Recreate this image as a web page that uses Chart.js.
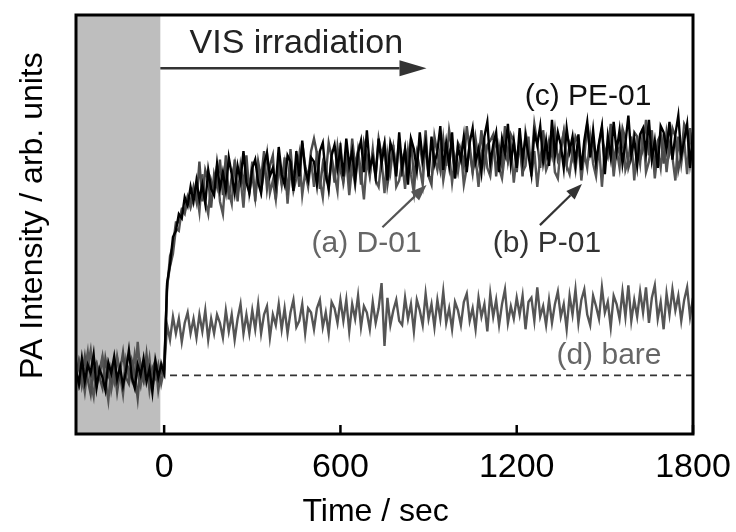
<!DOCTYPE html>
<html>
<head>
<meta charset="utf-8">
<script src="https://cdn.jsdelivr.net/npm/chart.js@4.4.1/dist/chart.umd.min.js"></script>
<style>
html,body{margin:0;padding:0;background:#fff;}
#wrap{width:736px;height:532px;position:relative;}
</style>
</head>
<body>
<div id="wrap"><canvas id="c" width="736" height="532"></canvas></div>
<script>
// ---- data (arbitrary units, sampled every 10 s starting at -300 s) ----
const timeStart = -300;
const timeStep = 10;
const xTickValues = [0, 600, 1200, 1800];
const xTickLabels = ['0', '600', '1200', '1800'];

const pe01 = [
 30,24,36,25,33,29,38,22,31,27, 21,34,29,37,26,32,23,30,40,27, 22,33,28,36,25,31,20,35,27,33, 29,
 72,81,94,97,105,103,113,109,118,111,
 121,112,119,110,126,117,114,129,117,125,
 116,132,124,115,128,121,135,120,115,127,
 131,120,115,129,134,123,127,119,137,124,
 119,133,130,116,135,123,140,126,121,132,
 130,119,135,139,124,117,133,138,127,136,
 123,141,128,135,121,134,140,125,145,127,
 132,123,141,129,138,121,139,134,123,144,
 127,136,119,141,136,126,144,131,139,123,
 142,129,135,147,126,139,128,144,122,137,
 131,142,125,139,146,130,136,125,142,149,
 129,138,144,125,141,134,148,129,140,127,
 146,131,142,133,124,144,138,147,130,140,
 128,150,133,144,138,127,146,135,142,129,
 143,126,140,149,132,145,130,139,147,124,
 142,132,149,135,145,129,139,152,133,141,
 128,143,146,134,150,131,140,127,147,144,
 136,149,131,143,152,133,140,148,127,144
];
const d01 = [
 31,23,28,37,26,19,32,34,27,22, 36,28,25,33,20,30,39,27,24,35, 29,17,33,26,38,24,31,35,21,30, 28,
 69,85,90,101,101,107,106,113,111,118,
 111,130,111,126,121,108,124,118,131,114,
 133,112,123,129,111,128,119,133,115,124,
 113,130,122,135,117,128,133,112,129,120,
 129,114,136,120,131,118,139,128,122,135,
 141,134,117,129,123,139,132,120,137,126,
 120,133,122,141,128,135,119,139,133,124,
 134,124,141,133,139,119,128,137,126,141,
 123,136,129,141,122,133,139,128,145,123,
 119,142,134,126,141,128,145,136,122,139,
 136,128,147,135,125,141,131,145,128,138,
 140,143,123,137,128,147,131,143,140,125,
 140,123,144,136,129,148,139,127,145,132,
 140,133,145,131,135,144,129,138,132,142,
 139,127,132,148,134,141,128,138,146,130,
 135,148,130,138,134,146,141,127,132,144,
 142,131,136,150,133,145,126,140,143,129,
 144,135,146,142,126,133,148,145,129,140
];
const p01 = [
 27,34,23,30,39,25,18,33,28,36, 26,16,31,25,37,29,22,35,27,32, 24,44,28,25,35,21,31,27,33,24, 31,
 71,80,86,98,97,107,105,113,108,113,
 116,106,124,111,105,121,116,128,111,105,
 125,116,110,131,115,122,108,128,117,130,
 111,127,116,125,134,115,121,112,129,119,
 132,110,127,116,122,133,114,125,118,131,
 118,135,121,113,130,117,132,124,116,139,
 121,131,114,128,119,135,125,112,131,123,
 136,121,118,131,115,134,125,138,118,121,
 130,117,135,124,115,134,127,119,140,123,
 122,132,126,136,121,130,134,120,132,125,
 135,119,127,138,125,132,118,134,139,127,
 123,135,140,127,122,134,130,138,120,133,
 139,125,128,142,123,135,118,132,137,126,
 130,141,125,122,137,144,128,124,135,126,
 139,121,134,127,142,129,123,138,118,136,
 132,141,123,136,127,144,126,131,142,121,
 138,129,146,125,130,140,122,135,127,143,
 125,138,132,121,142,129,140,124,146,131
];
const bare = [
 26,35,29,20,32,40,27,23,30,37, 25,33,21,29,36,28,19,34,31,26, 38,29,23,32,27,36,22,31,26,34, 30,
 52,45,56,48,55,44,53,58,48,55,
 46,57,49,59,45,55,48,57,53,46,
 59,49,57,45,55,62,48,57,48,59,
 50,62,48,57,61,46,57,52,62,50,
 60,48,58,64,51,54,62,48,60,58,
 50,60,64,51,58,48,63,60,53,64,
 54,64,49,62,55,66,51,61,58,50,
 63,53,60,72,42,65,52,59,64,54,
 52,65,55,62,49,64,59,52,67,55,
 62,51,64,55,68,53,60,50,63,59,
 52,63,67,54,60,50,65,56,62,49,
 67,56,64,52,62,69,53,61,55,65,
 57,66,50,63,65,54,70,56,61,52,
 64,53,62,68,56,62,50,66,57,69,
 53,64,69,57,52,66,61,55,70,58,
 63,51,66,62,55,68,56,71,54,64,
 56,68,58,70,53,65,71,55,63,50,
 67,57,69,59,66,54,64,70,56,65
];
const bareReferenceX = [20, 1800];
const bareReferenceY = [28, 28];
const darkPeriod = [-300, -13];

function toPoints(vals) {
  return vals.map((v, i) => ({x: timeStart + i * timeStep, y: v}));
}

const FONT = '"Liberation Sans", Arial, Helvetica, sans-serif';

const decorPlugin = {
  id: 'decor',
  beforeDatasetsDraw(chart) {
    const {ctx, chartArea: a, scales: {x}} = chart;
    ctx.save();
    ctx.fillStyle = '#bebebe';
    const x0 = x.getPixelForValue(darkPeriod[0]);
    const x1 = x.getPixelForValue(darkPeriod[1]);
    ctx.fillRect(x0, a.top, x1 - x0, a.bottom - a.top);
    ctx.restore();
  },
  afterDatasetsDraw(chart) {
    const {ctx, chartArea: a, scales: {x, y}} = chart;
    ctx.save();
    ctx.strokeStyle = '#000';
    ctx.lineWidth = 3;
    ctx.strokeRect(a.left, a.top, a.right - a.left, a.bottom - a.top);
    ctx.lineWidth = 2.5;
    xTickValues.forEach(v => {
      const px = x.getPixelForValue(v);
      ctx.beginPath();
      ctx.moveTo(px, a.bottom);
      ctx.lineTo(px, a.bottom - 9);
      ctx.stroke();
    });
    function arrow(xa, ya, xb, yb, color, lw, hl, hw) {
      const p0x = x.getPixelForValue(xa), p0y = y.getPixelForValue(ya);
      const p1x = x.getPixelForValue(xb), p1y = y.getPixelForValue(yb);
      const ang = Math.atan2(p1y - p0y, p1x - p0x);
      const bx = p1x - hl * Math.cos(ang), by = p1y - hl * Math.sin(ang);
      ctx.strokeStyle = color; ctx.fillStyle = color; ctx.lineWidth = lw;
      ctx.beginPath(); ctx.moveTo(p0x, p0y); ctx.lineTo(bx, by); ctx.stroke();
      ctx.beginPath();
      ctx.moveTo(p1x, p1y);
      ctx.lineTo(bx + hw * Math.sin(ang), by - hw * Math.cos(ang));
      ctx.lineTo(bx - hw * Math.sin(ang), by + hw * Math.cos(ang));
      ctx.closePath(); ctx.fill();
    }
    function label(text, xv, yv, color, size) {
      ctx.fillStyle = color;
      ctx.font = size + 'px ' + FONT;
      ctx.textAlign = 'center';
      ctx.textBaseline = 'middle';
      ctx.fillText(text, x.getPixelForValue(xv), y.getPixelForValue(yv));
    }
    label('VIS irradiation', 450, 186.5, '#222', 34);
    arrow(-13, 174.6, 893, 174.6, '#333', 2.5, 27, 8);
    label('(c) PE-01', 1443, 161, '#111', 30);
    label('(a) D-01', 689, 90.6, '#666', 30);
    arrow(743, 98.7, 893, 118.8, '#555', 2.2, 16, 6);
    label('(b) P-01', 1303, 90.6, '#333', 30);
    arrow(1279, 99.7, 1422, 119.3, '#333', 2.2, 16, 6);
    label('(d) bare', 1514, 37.2, '#666', 30);
    ctx.restore();
  }
};

new Chart(document.getElementById('c'), {
  type: 'line',
  data: {
    datasets: [
      {label: '(c) PE-01', data: toPoints(pe01), borderColor: '#000', borderWidth: 2.4, pointRadius: 0, tension: 0},
      {label: '(a) D-01', data: toPoints(d01), borderColor: '#4a4a4a', borderWidth: 2.4, pointRadius: 0, tension: 0},
      {label: '(b) P-01', data: toPoints(p01), borderColor: '#555', borderWidth: 2.4, pointRadius: 0, tension: 0},
      {label: '(d) bare', data: toPoints(bare), borderColor: '#555', borderWidth: 2.4, pointRadius: 0, tension: 0},
      {label: 'baseline', data: bareReferenceX.map((v, i) => ({x: v, y: bareReferenceY[i]})), borderColor: '#333', borderWidth: 1.8, borderDash: [7, 5], pointRadius: 0}
    ]
  },
  options: {
    responsive: false,
    animation: false,
    layout: {padding: {left: 0, right: 43, top: 15, bottom: 0}},
    plugins: {legend: {display: false}, tooltip: {enabled: false}},
    scales: {
      x: {
        type: 'linear', min: -300, max: 1800,
        afterBuildTicks: s => { s.ticks = xTickValues.map(v => ({value: v})); },
        afterFit: s => { s.height = 98; s.paddingLeft = 0; s.paddingRight = 0; },
        grid: {display: false, drawTicks: false},
        border: {display: false},
        ticks: {
          padding: 13, color: '#000', maxRotation: 0, autoSkip: false,
          font: {family: FONT, size: 34},
          callback: (v) => xTickLabels[xTickValues.indexOf(v)]
        },
        title: {display: true, text: 'Time / sec  ', color: '#000', font: {family: FONT, size: 32}, padding: {top: 0, bottom: 1}}
      },
      y: {
        type: 'linear', min: 0, max: 200,
        afterFit: s => { s.width = 76; },
        grid: {display: false, drawTicks: false},
        border: {display: false},
        ticks: {display: false},
        title: {display: true, text: '  PA Intensity / arb. units', color: '#000', font: {family: FONT, size: 32}, padding: {top: 14, bottom: 0}}
      }
    }
  },
  plugins: [decorPlugin]
});
</script>
</body>
</html>
